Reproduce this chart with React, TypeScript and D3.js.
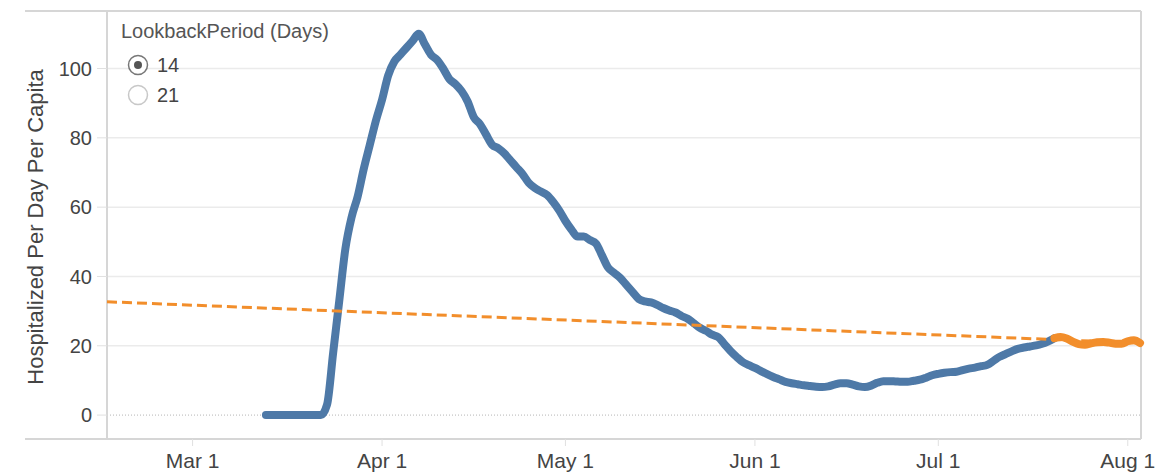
import React from "react";
import * as d3 from "d3";

// daily values, blue series starts on this date
const blueStart = "2020-03-13";
const blueValues = [
  0, 0, 0, 0, 0, 0, 0, 0, 0, 0, 3, 18, 33, 48, 57, 63, 71, 78, 85, 91, 98, 102,
  104, 106, 108, 110, 107, 104, 102.5, 100, 97, 95.5, 93.5, 90.5, 86, 84, 81, 78,
  77, 75.5, 73.5, 71.5, 69.5, 67, 65.5, 64.5, 63.5, 61.5, 59, 56, 53.5, 51.5,
  51.5, 50.5, 49.5, 46, 42.5, 41, 39.5, 37.5, 35.5, 33.5, 32.8, 32.5, 31.8, 30.9,
  30.2, 29.6, 28.6, 27.8, 26.5, 25.2, 24.3, 23.2, 22.5, 20.5, 18.5, 16.8, 15.3,
  14.4, 13.6, 12.7, 11.8, 11, 10.3, 9.6, 9.2, 8.9, 8.6, 8.4, 8.2, 8.1, 8.3, 8.8,
  9.2, 9.2, 8.8, 8.3, 8.1, 8.5, 9.3, 9.8, 9.8, 9.7, 9.6, 9.6, 9.9, 10.2, 10.8,
  11.5, 11.9, 12.2, 12.4, 12.5, 13.0, 13.4, 13.7, 14.1, 14.5, 15.6, 16.8, 17.6,
  18.4, 19.1, 19.5, 19.8, 20.1, 20.6, 21.3, 22.2,
];

// orange (recent) series
const orangeStart = "2020-07-20";
const orangeValues = [
  22.2, 22.5, 22.1, 21.2, 20.5, 20.3, 20.7, 21.0, 21.1, 20.9, 20.6, 20.6, 21.3,
  21.6, 20.8,
];

// trend line end points
const trendDates = ["2020-02-16", "2020-08-03"];
const trendValues = [32.7, 20.8];

const yTicks = [0, 20, 40, 60, 80, 100];
const xTickDates = ["2020-03-01", "2020-04-01", "2020-05-01", "2020-06-01", "2020-07-01", "2020-08-01"];
const xTickLabels = ["Mar 1", "Apr 1", "May 1", "Jun 1", "Jul 1", "Aug 1"];
const legendTitle = "LookbackPeriod (Days)";
const legendOptions = ["14", "21"];

const width = 1158;
const height = 474;
const left = 107;
const right = 1140;
const top = 11;
const bottom = 439;

const parse = d3.timeParse("%Y-%m-%d");
const font = "'Liberation Sans', Arial, sans-serif";

const toSeries = (start: string, values: number[]) => {
  const s = parse(start) as Date;
  return values.map((v, i) => ({ date: d3.timeDay.offset(s, i), value: v }));
};

export default function App() {
  const x = d3
    .scaleTime()
    .domain([parse("2020-02-16") as Date, parse("2020-08-03") as Date])
    .range([left, right]);
  const y = d3.scaleLinear().domain([-6.9, 116.6]).range([bottom, top]);

  const line = d3
    .line<{ date: Date; value: number }>()
    .x((d) => x(d.date))
    .y((d) => y(d.value))
    .curve(d3.curveMonotoneX);

  const blue = toSeries(blueStart, blueValues);
  const orange = toSeries(orangeStart, orangeValues);
  const trend = trendDates.map((d, i) => ({ date: parse(d) as Date, value: trendValues[i] }));

  return (
    <svg
      width={width}
      height={height}
      style={{ position: "absolute", left: 0, top: 0, background: "#fff" }}
      fontFamily={font}
    >
      {/* grid */}
      {yTicks.map((t) =>
        t === 0 ? (
          <line key={t} x1={left} x2={right} y1={y(t)} y2={y(t)} stroke="#b5b5b5" strokeDasharray="1,2" />
        ) : (
          <line key={t} x1={left} x2={right} y1={y(t)} y2={y(t)} stroke="#ebebeb" strokeWidth={1.5} />
        )
      )}
      {/* frame */}
      <line x1={25} x2={right + 1} y1={top} y2={top} stroke="#d6d6d6" strokeWidth={2} />
      <line x1={25} x2={right + 1} y1={bottom} y2={bottom} stroke="#d6d6d6" strokeWidth={2} />
      <line x1={left} x2={left} y1={top} y2={bottom} stroke="#d6d6d6" strokeWidth={2} />
      <line x1={right + 1} x2={right + 1} y1={top} y2={bottom} stroke="#d6d6d6" strokeWidth={2} />

      {/* y axis */}
      {yTicks.map((t) => (
        <g key={t}>
          <line x1={97} x2={left} y1={y(t)} y2={y(t)} stroke="#e0e0e0" />
          <text x={92} y={y(t)} dy="0.36em" textAnchor="end" fontSize={20} fill="#444">
            {t}
          </text>
        </g>
      ))}
      <text
        transform={`translate(43,${(top + bottom) / 2 + 2}) rotate(-90)`}
        textAnchor="middle"
        fontSize={22}
        fill="#444"
      >
        Hospitalized Per Day Per Capita
      </text>

      {/* x axis */}
      {xTickDates.map((d, i) => {
        const xx = x(parse(d) as Date);
        return (
          <g key={d}>
            <line x1={xx} x2={xx} y1={bottom} y2={bottom + 7} stroke="#e0e0e0" />
            <text x={xx} y={468} textAnchor="middle" fontSize={21} fill="#444">
              {xTickLabels[i]}
            </text>
          </g>
        );
      })}

      {/* series */}
      <path d={line(blue) || ""} fill="none" stroke="#4e79a7" strokeWidth={8} strokeLinejoin="round" strokeLinecap="round" />
      <path d={line(orange) || ""} fill="none" stroke="#f28e2b" strokeWidth={8} strokeLinejoin="round" strokeLinecap="round" />
      <path d={line(trend) || ""} fill="none" stroke="#f28e2b" strokeWidth={3} strokeDasharray="10,5" />

      {/* legend */}
      <text x={121} y={38} fontSize={20} fill="#555">
        {legendTitle}
      </text>
      {legendOptions.map((o, i) => (
        <g key={o}>
          <circle cx={138} cy={65 + i * 30} r={9.5} fill="#fff" stroke={i === 0 ? "#777" : "#c8c8c8"} strokeWidth={1.5} />
          {i === 0 && <circle cx={138} cy={65} r={4} fill="#555" />}
          <text x={157} y={65 + i * 30} dy="0.36em" fontSize={20} fill="#444">
            {o}
          </text>
        </g>
      ))}
    </svg>
  );
}
